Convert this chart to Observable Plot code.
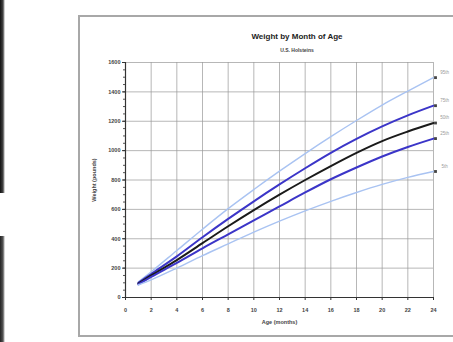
<!DOCTYPE html>
<html>
<head>
<meta charset="utf-8">
<script src="https://cdn.jsdelivr.net/npm/d3@7"></script>
<script src="https://cdn.jsdelivr.net/npm/@observablehq/plot@0.6"></script>
<style>
  html, body { margin:0; padding:0; background:#fff; overflow:hidden; }
  #wrap { position:relative; width:453px; height:342px; overflow:hidden; font-family:"Liberation Sans", Arial, sans-serif; }
  #bar1 { position:absolute; left:0; top:0; width:5px; height:193px; background:linear-gradient(to right,#111,#444 60%,#fff); }
  #bar2 { position:absolute; left:0; top:236px; width:5px; height:106px; background:linear-gradient(to right,#222,#555 60%,#fff); }
  #frame { position:absolute; left:78px; top:15px; width:400px; height:322px; border:2px solid #a8a8a8; box-sizing:border-box; }
  #title { position:absolute; left:0; width:594px; top:32px; text-align:center; font-weight:bold; font-size:8px; color:#222; }
  #sub { position:absolute; left:0; width:594px; top:47px; text-align:center; font-weight:bold; font-size:5px; color:#444; }
  #chart { position:absolute; left:0; top:0; }
</style>
</head>
<body>
<div id="wrap">
  <div id="bar1"></div>
  <div id="bar2"></div>
  <div id="frame"></div>
  <div id="title">Weight by Month of Age</div>
  <div id="sub">U.S. Holsteins</div>
  <div id="chart"></div>
</div>
<script>
const months = [1, 2, 4, 6, 8, 10, 12, 14, 16, 18, 20, 22, 24];
const p95 = [105, 175, 320, 465, 605, 735, 860, 980, 1095, 1205, 1310, 1405, 1497];
const p75 = [100, 160, 280, 410, 535, 655, 770, 880, 985, 1080, 1165, 1240, 1306];
const p50 = [95, 150, 255, 370, 485, 595, 700, 800, 895, 985, 1065, 1130, 1188];
const p25 = [90, 140, 235, 335, 430, 525, 620, 715, 805, 885, 960, 1025, 1082];
const p05 = [85, 120, 200, 285, 365, 445, 520, 590, 655, 715, 770, 818, 858];
const seriesNames = ["95th", "75th", "50th", "25th", "5th"];
const xTicks = [0, 2, 4, 6, 8, 10, 12, 14, 16, 18, 20, 22, 24];
const yTicks = [0, 200, 400, 600, 800, 1000, 1200, 1400, 1600];

const seriesVals = [p95, p75, p50, p25, p05];
const colors = ["#a9c3f2", "#3b35c8", "#1a1a1a", "#3b35c8", "#a9c3f2"];
const widths = [1.4, 2, 2, 2, 1.4];

const rows = (vals, name) => months.map((m, i) => ({month: m, weight: vals[i], name}));

const lineMarks = seriesVals.map((v, k) =>
  Plot.line(rows(v, seriesNames[k]), {x: "month", y: "weight", stroke: colors[k], strokeWidth: widths[k], curve: "monotone-x"})
);
const ends = seriesVals.map((v, k) => ({month: 24, weight: v[v.length - 1], name: seriesNames[k]}));

const chart = Plot.plot({
  width: 453, height: 342,
  marginLeft: 125, marginRight: 20, marginTop: 62, marginBottom: 45,
  style: {fontFamily: "Liberation Sans, Arial, sans-serif", fontSize: "5.5px", background: "transparent", color: "#333"},
  x: {domain: [0, 24]},
  y: {domain: [0, 1600]},
  marks: [
    Plot.gridX(xTicks, {stroke: "#999", strokeOpacity: 0.7}),
    Plot.gridY(yTicks, {stroke: "#999", strokeOpacity: 0.7}),
    Plot.axisY(d3.range(0, 1601, 50), {tickSize: 2, text: null, label: null, stroke: "#555"}),
    Plot.axisY(yTicks, {tickSize: 3, tickPadding: 2, tickFormat: "d", label: "Weight (pounds)", labelAnchor: "center", labelArrow: "none", labelOffset: 33, fontWeight: "bold", fill: "#444"}),
    Plot.axisX(xTicks, {tickSize: 3, tickPadding: 8, label: "Age (months)", labelAnchor: "center", labelArrow: "none", labelOffset: 26, fontWeight: "bold", fill: "#444"}),
    Plot.ruleX([0], {stroke: "#333", strokeWidth: 1.2}),
    Plot.ruleY([0], {stroke: "#333", strokeWidth: 1.2}),
    ...lineMarks,
    Plot.dot(ends, {x: "month", y: "weight", symbol: "square", r: 1.6, fill: "#444", dx: 2}),
    Plot.text(ends, {x: "month", y: "weight", text: "name", dx: 11, dy: -5, fontSize: 4.5, fill: "#999"})
  ]
});
document.getElementById("chart").appendChild(chart);
</script>
</body>
</html>
